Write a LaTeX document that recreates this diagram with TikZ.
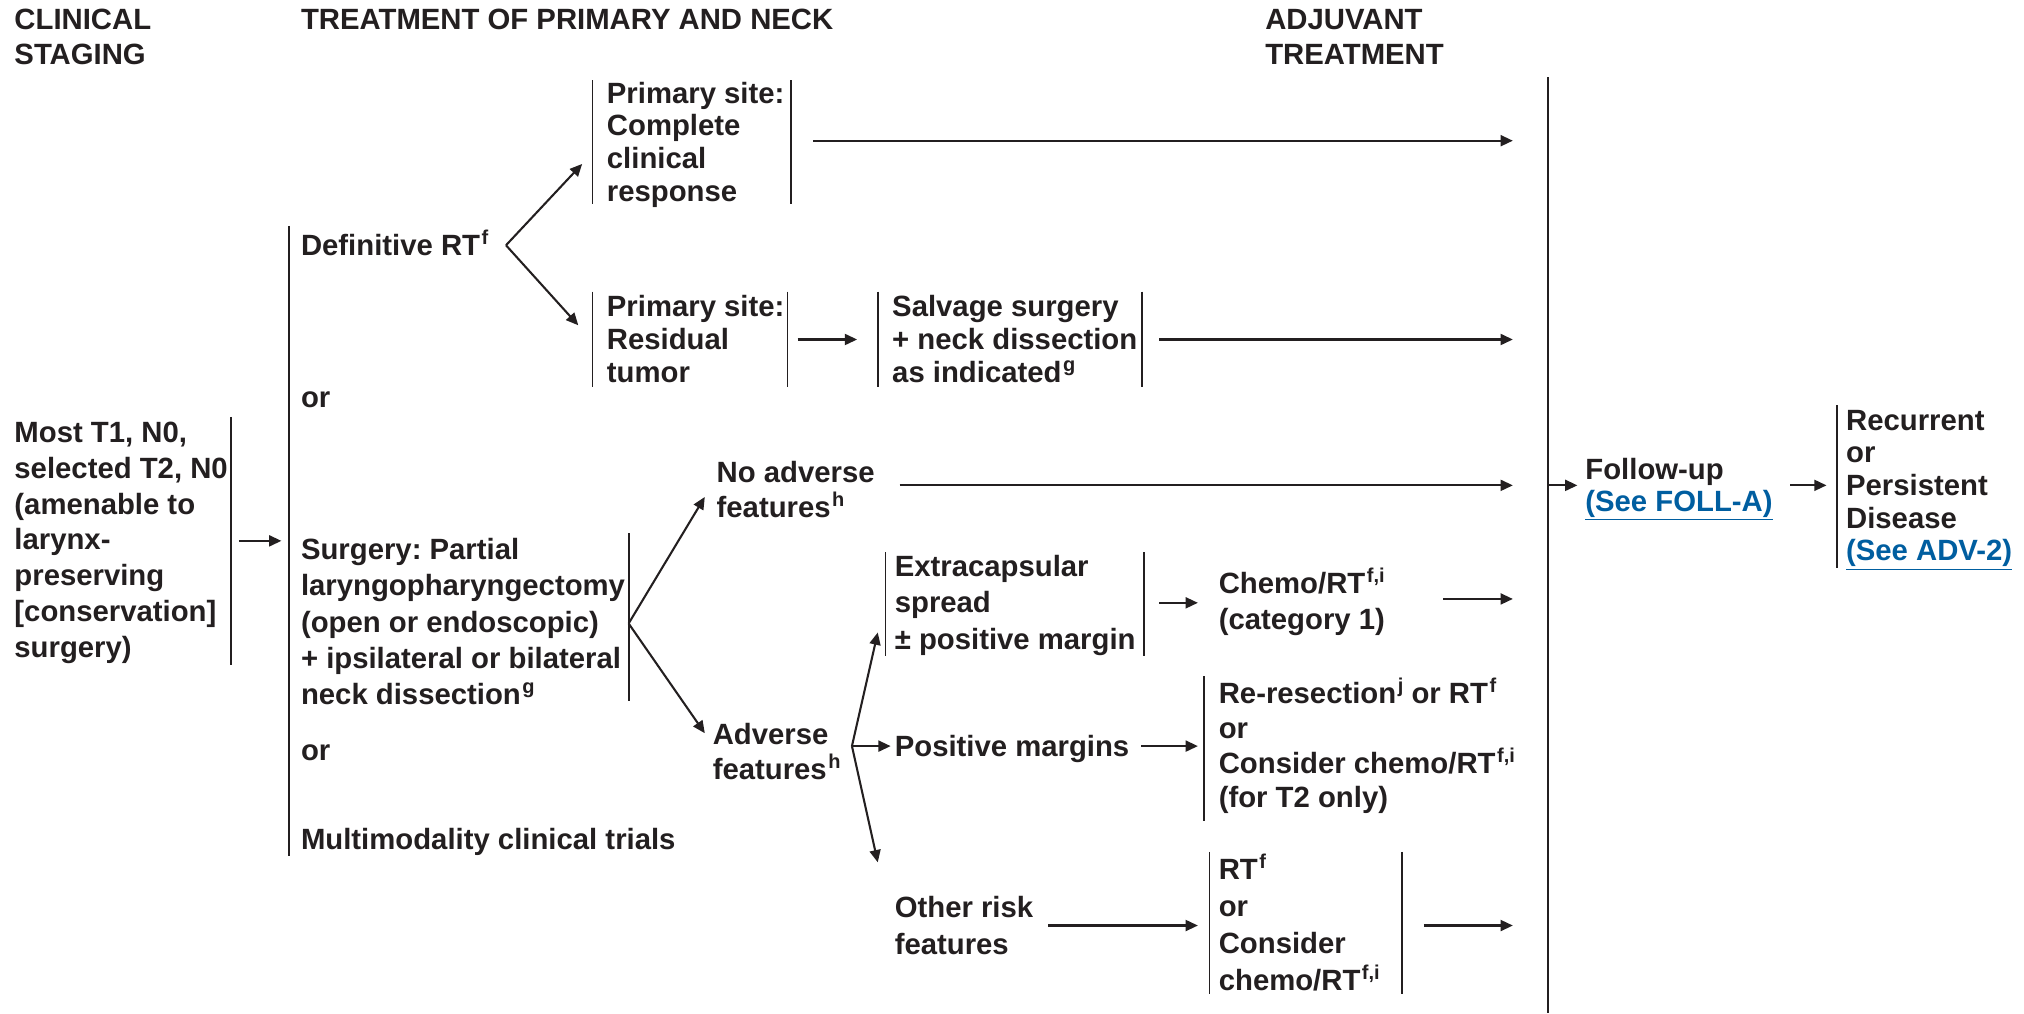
\documentclass[tikz,border=0pt]{standalone}
\usepackage{fontspec}
\setmainfont{Liberation Sans}
\usetikzlibrary{arrows.meta}
\definecolor{ink}{RGB}{35,31,32}
\definecolor{linkblue}{RGB}{0,94,160}
\frenchspacing
% superscript footnote letters (no effect on line height) and underlined cross-references
\newcommand\sps[1]{\kern1.2pt\raisebox{8.5pt}[0pt][0pt]{\fontsize{15.5}{15.5}\selectfont #1}}
\newcommand\lnk[1]{\textcolor{linkblue}{\underline{#1}}}
\begin{document}
\begin{tikzpicture}[x=1pt,y=-1pt,
  head/.style={anchor=west, inner sep=0pt, align=left, text=ink,
              font=\fontsize{22.7}{25.3}\selectfont\bfseries},
  txt/.style={head, yshift=-2pt},
  bs/.style={font=\fontsize{22.7}{#1}\selectfont\bfseries},
  bar/.style={draw=ink, line width=1.4pt},
  arr/.style={draw=ink, line width=1.6pt, -{Triangle[length=9.5pt,width=8.5pt]}}]

\useasboundingbox[fill=white] (0,0) rectangle (1568,785);

% column headings
\node[head, bs=27] (hclin) at (11,28.5) {CLINICAL\\STAGING};
\node[head] (htreat) at (233,15) {TREATMENT OF PRIMARY AND NECK};
\node[head, bs=27] (hadj) at (980,28.5) {ADJUVANT\\TREATMENT};

% clinical staging
\node[txt, bs=27.8] (stage) at (11,418.5)
  {Most T1, N0,\\selected T2, N0\\(amenable to\\larynx-\\preserving\\{[conservation]}\\surgery)};
\draw[bar] (179,323) -- (179,515);

% primary treatment options
\draw[bar] (224,175) -- (224,663);
\node[txt] (defrt) at (233,188) {Definitive RT\sps{f}};
\node[txt] (or1) at (233,308) {or};
\node[txt, bs=28.25] (surg) at (233,479.5)
  {Surgery: Partial\\laryngopharyngectomy\\(open or endoscopic)\\+ ipsilateral or bilateral\\neck dissection\sps{g}};
\draw[bar] (487,413) -- (487,543);
\node[txt] (or2) at (233,581) {or};
\node[txt] (multi) at (233,650) {Multimodality clinical trials};

% response after RT
\node[txt] (pcomp) at (470,110) {Primary site:\\Complete\\clinical\\response};
\draw[bar] (459,62) -- (459,158);
\draw[bar] (613,62) -- (613,158);
\node[txt, bs=25.5] (pres) at (470,260.5) {Primary site:\\Residual\\tumor};
\draw[bar] (459,226) -- (459,300);
\draw[bar] (610,226) -- (610,300);
\node[txt, bs=25.5] (salv) at (691,260.5) {Salvage surgery\\+ neck dissection\\as indicated\sps{g}};
\draw[bar] (680,226) -- (680,300);
\draw[bar] (885,226) -- (885,300);

% pathology after surgery
\node[txt, bs=27] (noadv) at (555,377.5) {No adverse\\features\sps{h}};
\node[txt, bs=27] (adv) at (552,580.5) {Adverse\\features\sps{h}};
\node[txt, bs=28] (extra) at (693,467) {Extracapsular\\spread\\± positive margin};
\draw[bar] (686,428) -- (686,508);
\draw[bar] (886,428) -- (886,508);
\node[txt] (posm) at (693,578) {Positive margins};
\node[txt, bs=28] (other) at (693,715) {Other risk\\features};

% adjuvant treatment
\node[txt, bs=28] (chemo) at (944,466) {Chemo/RT\sps{f,i}\\(category 1)};
\node[txt, bs=27] (reres) at (944,577.5)
  {Re-resection\sps{j} or RT\sps{f}\\or\\Consider chemo/RT\sps{f,i}\\(for T2 only)};
\draw[bar] (933,524) -- (933,636);
\node[txt, bs=28.7] (rtbox) at (944,715) {RT\sps{f}\\or\\Consider\\chemo/RT\sps{f,i}};
\draw[bar] (937,660) -- (937,770);
\draw[bar] (1086,660) -- (1086,770);

% follow-up column
\draw[bar] (1199,60) -- (1199,785);
\node[txt, bs=25] (follow) at (1228,377) {Follow-up\\\lnk{(See FOLL-A)}};
\node[txt, bs=25.3] (recur) at (1430,377.5)
  {Recurrent\\or\\Persistent\\Disease\\\lnk{(See ADV-2)}};
\draw[bar] (1423,314) -- (1423,440);

% connector end points
\coordinate (stageOut) at (185,419);   \coordinate (mainIn) at (218,419);
\coordinate (dsplit) at (392,190);     \coordinate (pcompIn) at (451,127);
\coordinate (presIn) at (448,252);
\coordinate (ssplit) at (487,483);     \coordinate (noadvIn) at (546,385);
\coordinate (advIn) at (546,568);
\coordinate (asplit) at (660,578);     \coordinate (extraIn) at (680,490);
\coordinate (posmIn) at (690,578);     \coordinate (otherIn) at (680,668);
\coordinate (pcompOut) at (630,109);   \coordinate (pcompEnd) at (1172,109);
\coordinate (presOut) at (618,263);    \coordinate (salvIn) at (664,263);
\coordinate (salvOut) at (898,263);    \coordinate (salvEnd) at (1172,263);
\coordinate (noadvOut) at (697,376);   \coordinate (noadvEnd) at (1172,376);
\coordinate (extraOut) at (898,467);   \coordinate (chemoIn) at (928,467);
\coordinate (chemoOut) at (1118,464);  \coordinate (chemoEnd) at (1172,464);
\coordinate (posmOut) at (884,578);    \coordinate (reresIn) at (928,578);
\coordinate (otherOut) at (812,717);   \coordinate (rtboxIn) at (928,717);
\coordinate (rtboxOut) at (1103,717);  \coordinate (rtboxEnd) at (1172,717);
\coordinate (adjOut) at (1199,376);    \coordinate (followIn) at (1222,376);
\coordinate (followOut) at (1387,376); \coordinate (recurIn) at (1415,376);

% connectors
\draw[arr] (stageOut) -- (mainIn);
\draw[arr] (dsplit) -- (pcompIn);
\draw[arr] (dsplit) -- (presIn);
\draw[arr] (ssplit) -- (noadvIn);
\draw[arr] (ssplit) -- (advIn);
\draw[arr] (asplit) -- (extraIn);
\draw[arr] (asplit) -- (posmIn);
\draw[arr] (asplit) -- (otherIn);
\draw[arr] (pcompOut) -- (pcompEnd);
\draw[arr] (presOut) -- (salvIn);
\draw[arr] (salvOut) -- (salvEnd);
\draw[arr] (noadvOut) -- (noadvEnd);
\draw[arr] (extraOut) -- (chemoIn);
\draw[arr] (chemoOut) -- (chemoEnd);
\draw[arr] (posmOut) -- (reresIn);
\draw[arr] (otherOut) -- (rtboxIn);
\draw[arr] (rtboxOut) -- (rtboxEnd);
\draw[arr] (adjOut) -- (followIn);
\draw[arr] (followOut) -- (recurIn);
\end{tikzpicture}
\end{document}
